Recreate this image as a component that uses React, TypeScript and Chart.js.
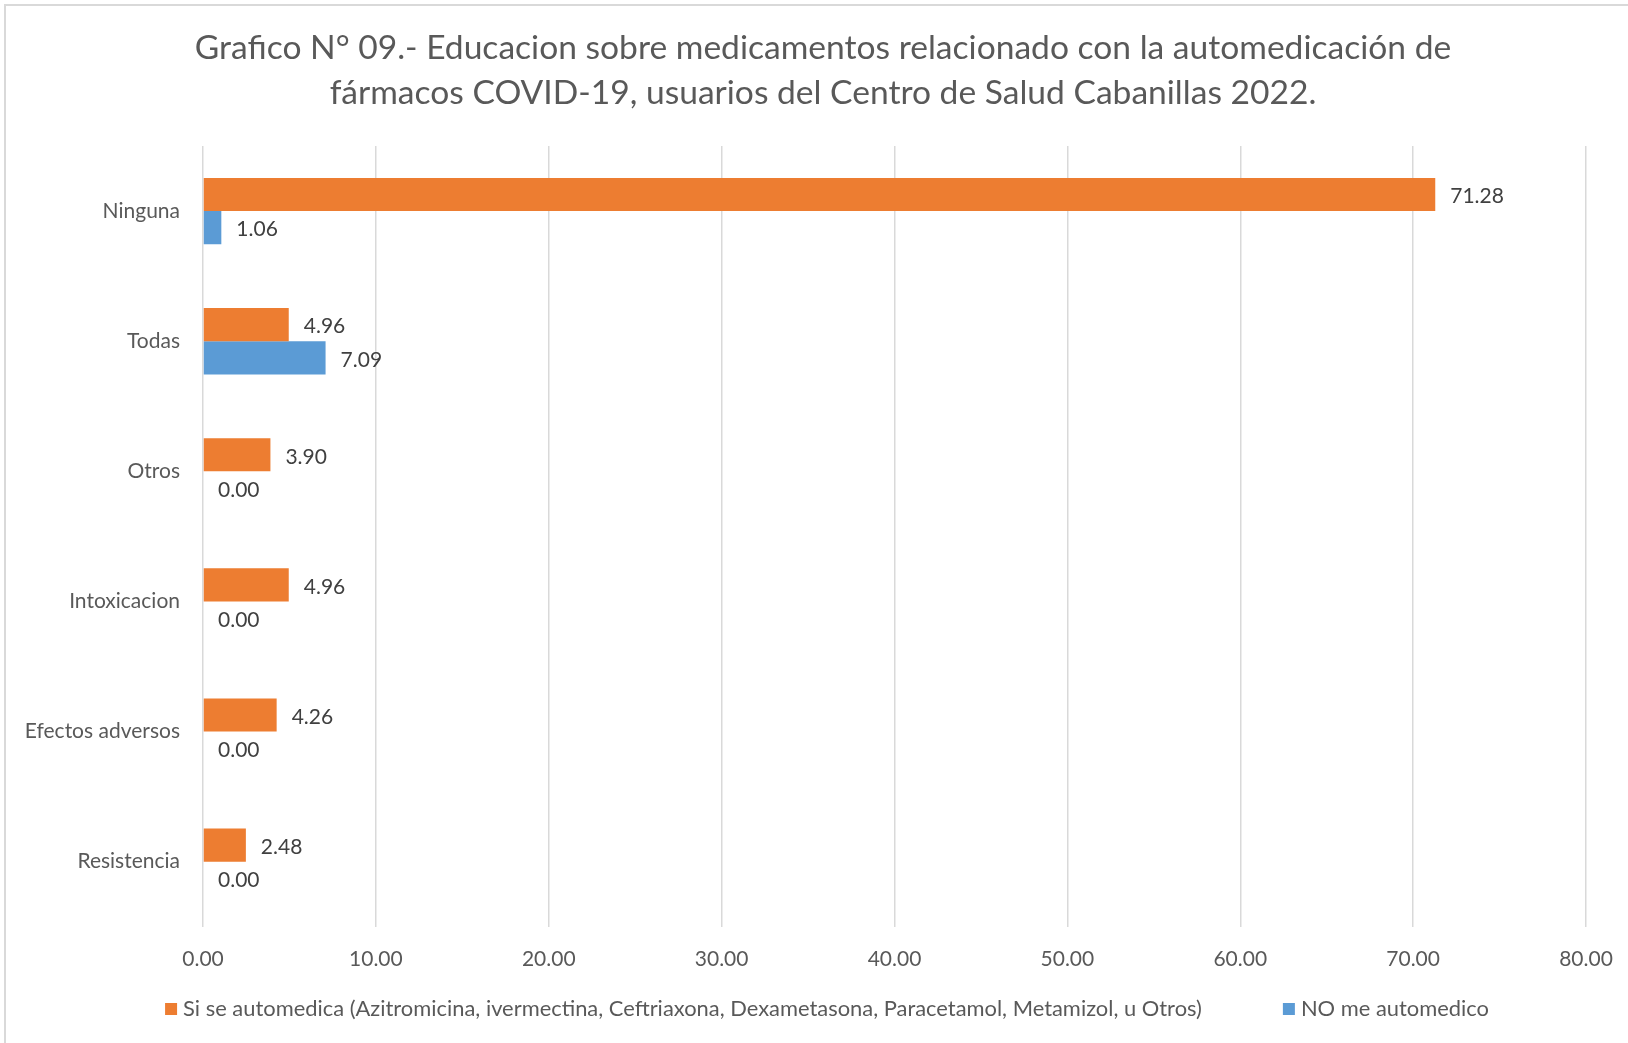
import React, { useEffect, useRef } from "react";
import { Chart, registerables } from "chart.js";

Chart.register(...registerables);

const categories = ["Ninguna", "Todas", "Otros", "Intoxicacion", "Efectos adversos", "Resistencia"];
const siSeAutomedica = [71.28, 4.96, 3.9, 4.96, 4.26, 2.48];
const noMeAutomedico = [1.06, 7.09, 0.0, 0.0, 0.0, 0.0];
const seriesNames = [
  "Si se automedica (Azitromicina, ivermectina, Ceftriaxona, Dexametasona, Paracetamol, Metamizol, u Otros)",
  "NO me automedico",
];
const titleLines = [
  "Grafico N° 09.- Educacion sobre medicamentos relacionado con la automedicación de",
  "fármacos COVID-19, usuarios del Centro de Salud Cabanillas 2022.",
];
const xMin = 0;
const xMax = 80;
const xStep = 10;

const FONT = "Lato, 'Open Sans', sans-serif";
const ORANGE = "#ED7D31";
const BLUE = "#5B9BD5";

const valueLabels = {
  id: "valueLabels",
  afterDatasetsDraw(chart: any) {
    const ctx = chart.ctx;
    ctx.save();
    ctx.font = `21px ${FONT}`;
    ctx.fillStyle = "#404040";
    ctx.textAlign = "left";
    ctx.textBaseline = "middle";
    chart.data.datasets.forEach((ds: any, di: number) => {
      const meta = chart.getDatasetMeta(di);
      meta.data.forEach((el: any, i: number) => {
        const v = ds.data[i] as number;
        ctx.fillText(v.toFixed(2), el.x + 15, el.y + 2);
      });
    });
    ctx.restore();
  },
};

const customTitle = {
  id: "customTitle",
  afterDraw(chart: any) {
    const ctx = chart.ctx;
    ctx.save();
    ctx.font = `33.6px ${FONT}`;
    ctx.fillStyle = "#595959";
    ctx.textAlign = "center";
    ctx.textBaseline = "middle";
    titleLines.forEach((line, i) => {
      ctx.fillText(line, 823, 48 + i * 45);
    });
    ctx.restore();
  },
};

const customLegend = {
  id: "customLegend",
  afterDraw(chart: any) {
    const ctx = chart.ctx;
    ctx.save();
    ctx.font = `21.9px ${FONT}`;
    ctx.textBaseline = "middle";
    ctx.textAlign = "left";
    const box = 12;
    const gap = 6;
    const spacing = 81;
    const colors = [ORANGE, BLUE];
    const widths = seriesNames.map((n) => ctx.measureText(n).width);
    const total = widths.reduce((a, w) => a + box + gap + w, 0) + spacing;
    const center = 827;
    const y = 1009;
    let x = center - total / 2;
    seriesNames.forEach((n, i) => {
      ctx.fillStyle = colors[i];
      ctx.fillRect(x, y - box / 2, box, box);
      x += box + gap;
      ctx.fillStyle = "#595959";
      ctx.fillText(n, x, y);
      x += widths[i] + spacing;
    });
    ctx.restore();
  },
};

export default function App() {
  const canvasRef = useRef<HTMLCanvasElement | null>(null);

  useEffect(() => {
    if (!canvasRef.current) return;
    const chart = new Chart(canvasRef.current, {
      type: "bar",
      data: {
        labels: categories,
        datasets: [
          { label: seriesNames[0], data: siSeAutomedica, backgroundColor: ORANGE, borderWidth: 0 },
          { label: seriesNames[1], data: noMeAutomedico, backgroundColor: BLUE, borderWidth: 0 },
        ],
      },
      options: {
        indexAxis: "y",
        animation: false,
        responsive: false,
        maintainAspectRatio: false,
        layout: { padding: { left: 0, right: 42, top: 146, bottom: 51 } },
        plugins: {
          legend: { display: false },
          tooltip: { enabled: false },
          title: { display: false },
        },
        scales: {
          x: {
            min: xMin,
            max: xMax,
            ticks: {
              stepSize: xStep,
              color: "#595959",
              font: { family: FONT, size: 21 },
              padding: 20,
              callback: (v: any) => Number(v).toFixed(2),
            },
            grid: { color: "#d9d9d9", lineWidth: 1.5, drawTicks: false },
            border: { display: false },
            afterFit: (scale: any) => {
              scale.paddingLeft = 0;
              scale.paddingRight = 0;
            },
          },
          y: {
            ticks: {
              color: "#595959",
              font: { family: FONT, size: 21 },
              padding: 23,
            },
            grid: { display: false, drawTicks: false },
            border: { display: false },
            afterFit: (scale: any) => {
              scale.width = 203;
            },
          },
        },
        datasets: {
          bar: { categoryPercentage: 0.51, barPercentage: 1.0 },
        },
      } as any,
      plugins: [valueLabels, customTitle, customLegend],
    });
    return () => chart.destroy();
  }, []);

  return (
    <div style={{ position: "absolute", left: 0, top: 0, width: 1628, height: 1043, background: "#fff" }}>
      <div
        style={{
          position: "absolute",
          left: 4,
          top: 4,
          right: 0,
          bottom: 0,
          borderTop: "2px solid #d9d9d9",
          borderLeft: "2px solid #d9d9d9",
        }}
      />
      <canvas ref={canvasRef} width={1628} height={1043} style={{ position: "absolute", left: 0, top: 0 }} />
    </div>
  );
}
